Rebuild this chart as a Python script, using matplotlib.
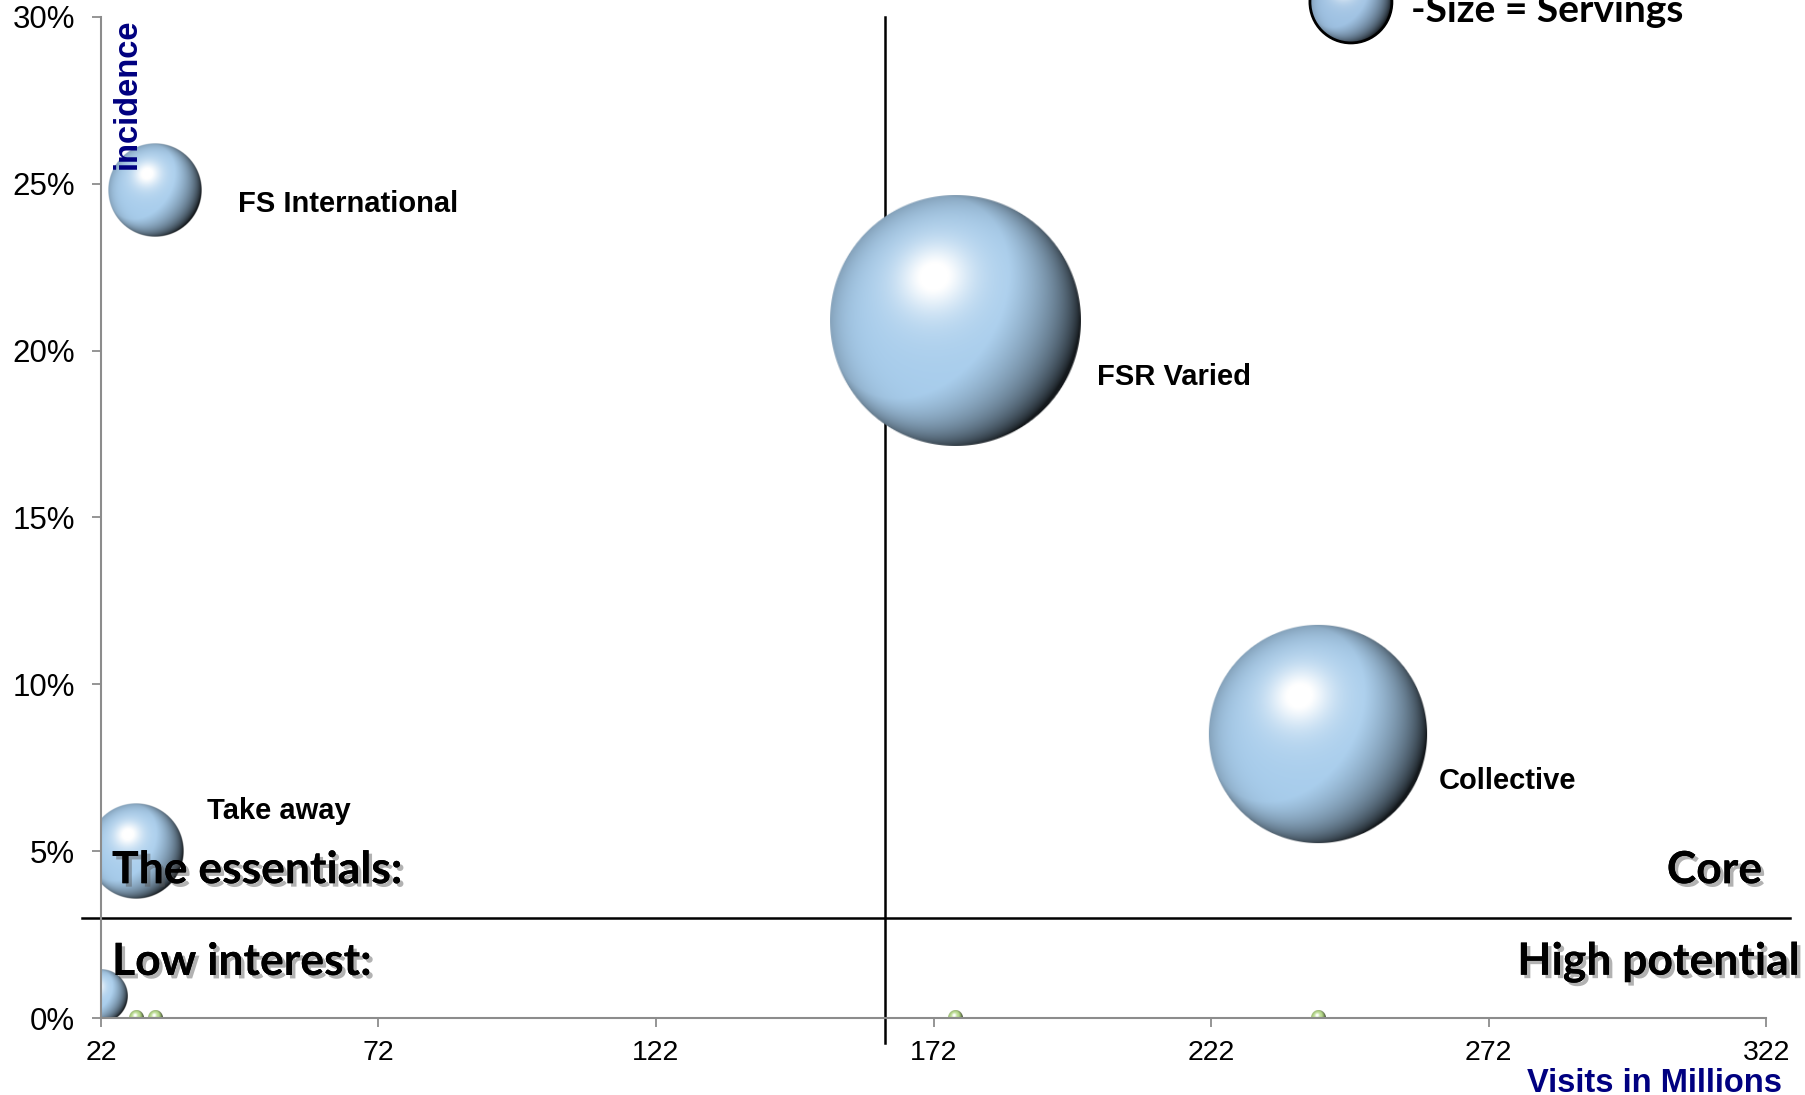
import numpy as np
import matplotlib
matplotlib.use("Agg")
import matplotlib.pyplot as plt
import matplotlib.patheffects as pe
from matplotlib.colors import to_rgb

# bubble series: visits (millions), incidence (%), servings
names = ["FS International", "FSR Varied", "Collective", "Take away", ""]
visits = [31.7, 175.9, 241.3, 28.3, 22.0]
incidence = [24.8, 20.9, 8.5, 5.0, 0.65]
servings = [22, 159, 121, 23, 7]

# second series sitting on the x axis
zero_visits = [28.3, 31.7, 175.9, 241.3]
zero_incidence = [0, 0, 0, 0]
zero_servings = [0.5, 0.5, 0.5, 0.5]

# label positions (data coords)
label_x = [46.7, 201.5, 263.1, 41.1]
label_y = [24.4, 19.2, 7.1, 6.2]

x_ticks = [22, 72, 122, 172, 222, 272, 322]
y_ticks = [0, 5, 10, 15, 20, 25, 30]
x_split = 163.3
y_split = 3.0

BLUE = "#a8cdec"
GREEN = "#b4d986"
PX_PER_SERVING = 10.0  # bubble radius in pixels = 10 * sqrt(servings)

fig = plt.figure(figsize=(18.06, 10.95), dpi=100)
ax = fig.add_axes([0.0559, 0.0703, 0.9220, 0.9142])
ax.set_xlim(22, 322)
ax.set_ylim(0, 30)


def shaded_ball(base, n=241):
    u, v = np.meshgrid(np.linspace(-1, 1, n), np.linspace(-1, 1, n))
    rho = np.sqrt(u ** 2 + v ** 2)
    w = np.sqrt(np.clip(1 - rho ** 2, 0, 1))
    Ld = np.array([-0.55, 0.35, 0.75])
    Ld = Ld / np.linalg.norm(Ld)
    Ls = np.array([-0.31, 0.64, 0.69])
    H = Ls / np.linalg.norm(Ls) + np.array([0, 0, 1.0])
    H = H / np.linalg.norm(H)
    ndl = u * Ld[0] + v * Ld[1] + w * Ld[2]
    ndh = np.clip(u * H[0] + v * H[1] + w * H[2], 0, 1)
    wrap = np.clip((ndl + 0.6) / 1.6, 0, 1)
    inten = 0.15 + 0.85 * np.clip((wrap - 0.1) / 0.6, 0, 1) ** 0.8
    inten = inten * (1 - 0.22 * np.clip(rho, 0, 1) ** 8)
    rgb = np.array(to_rgb(base))[None, None, :] * inten[..., None]
    sheen = 0.35 * ndh ** 8 + 0.8 * ndh ** 28
    rgb = rgb + (1 - rgb) * np.clip(sheen, 0, 1)[..., None]
    rgb = np.clip(rgb, 0, 1)
    alpha = np.clip((1 - rho) * n / 2.0, 0, 1)
    return np.dstack([rgb, alpha])


def sphere(x, y, serv, base, clip=True, edge=None):
    r_px = PX_PER_SERVING * np.sqrt(serv)
    cx, cy = ax.transData.transform((x, y))
    inv = ax.transData.inverted()
    x0, y0 = inv.transform((cx - r_px, cy - r_px))
    x1, y1 = inv.transform((cx + r_px, cy + r_px))
    ax.imshow(shaded_ball(base), extent=(x0, x1, y0, y1), origin="lower",
              aspect="auto", interpolation="bilinear", zorder=2, clip_on=clip)
    if edge is not None:
        r_pt = r_px * 72.0 / fig.dpi
        ax.scatter([x], [y], s=(2 * r_pt) ** 2, facecolors="none",
                   edgecolors=edge, linewidths=2, zorder=2.5, clip_on=clip)


for x, y, sv in zip(visits, incidence, servings):
    sphere(x, y, sv, BLUE)
for x, y, sv in zip(zero_visits, zero_incidence, zero_servings):
    sphere(x, y, sv, GREEN)

# legend bubble
sphere(247.2, 30.45, 16.8, "#9fc2e3", clip=False, edge="black")
ax.text(258.0, 30.2, "-Size = Servings", fontsize=28, fontweight="bold",
        family="Lato", va="center", ha="left", clip_on=False)

# quadrant lines (behind the bubbles)
ax.plot([x_split, x_split], [-0.75, 30], color="black", lw=1.8,
        clip_on=False, zorder=1)
ax.plot([18.6, 326.3], [y_split, y_split], color="black", lw=1.8,
        clip_on=False, zorder=1)

for nm, lx, ly in zip(names, label_x, label_y):
    ax.text(lx, ly, nm, fontsize=21, fontweight="bold",
            family="Liberation Sans", va="center", ha="left", zorder=4)

shadow = [pe.withSimplePatchShadow(offset=(2.5, -2.5), shadow_rgbFace="#555555",
                                   alpha=0.45), pe.Normal()]
quad = [("The essentials:", 24.0, 4.43, "left"),
        ("Core", 321.3, 4.43, "right"),
        ("Low interest:", 24.0, 1.68, "left"),
        ("High potential", 328.1, 1.68, "right")]
for txt, qx, qy, ha in quad:
    ax.text(qx, qy, txt, fontsize=32, fontweight="bold", family="Lato",
            ha=ha, va="center", path_effects=shadow, clip_on=False, zorder=5)

# axes style
for side in ["top", "right"]:
    ax.spines[side].set_visible(False)
for side in ["left", "bottom"]:
    ax.spines[side].set_color("#8c8c8c")
    ax.spines[side].set_linewidth(1.5)
ax.set_xticks(x_ticks)
ax.set_yticks(y_ticks)
ax.set_yticklabels([f"{v}%" for v in y_ticks])
ax.tick_params(axis="both", direction="out", length=6.5, width=1.3,
               color="#8c8c8c")
ax.tick_params(axis="x", pad=9, labelsize=20.5)
ax.tick_params(axis="y", pad=12, labelsize=22.5)
for lab in ax.get_xticklabels() + ax.get_yticklabels():
    lab.set_family("Liberation Sans")
ax.set_xlim(22, 322)
ax.set_ylim(0, 30)

ax.text(26.7, 27.7, "incidence", rotation=90, color="#000080",
        fontsize=23.5, fontweight="bold", family="Liberation Sans",
        ha="center", va="center", zorder=6)
fig.text(1655 / 1806, 1 - 1083 / 1095, "Visits in Millions", color="#000080",
         fontsize=23.5, fontweight="bold", family="Liberation Sans",
         ha="center", va="center")

fig.savefig("out.png", dpi=100)
